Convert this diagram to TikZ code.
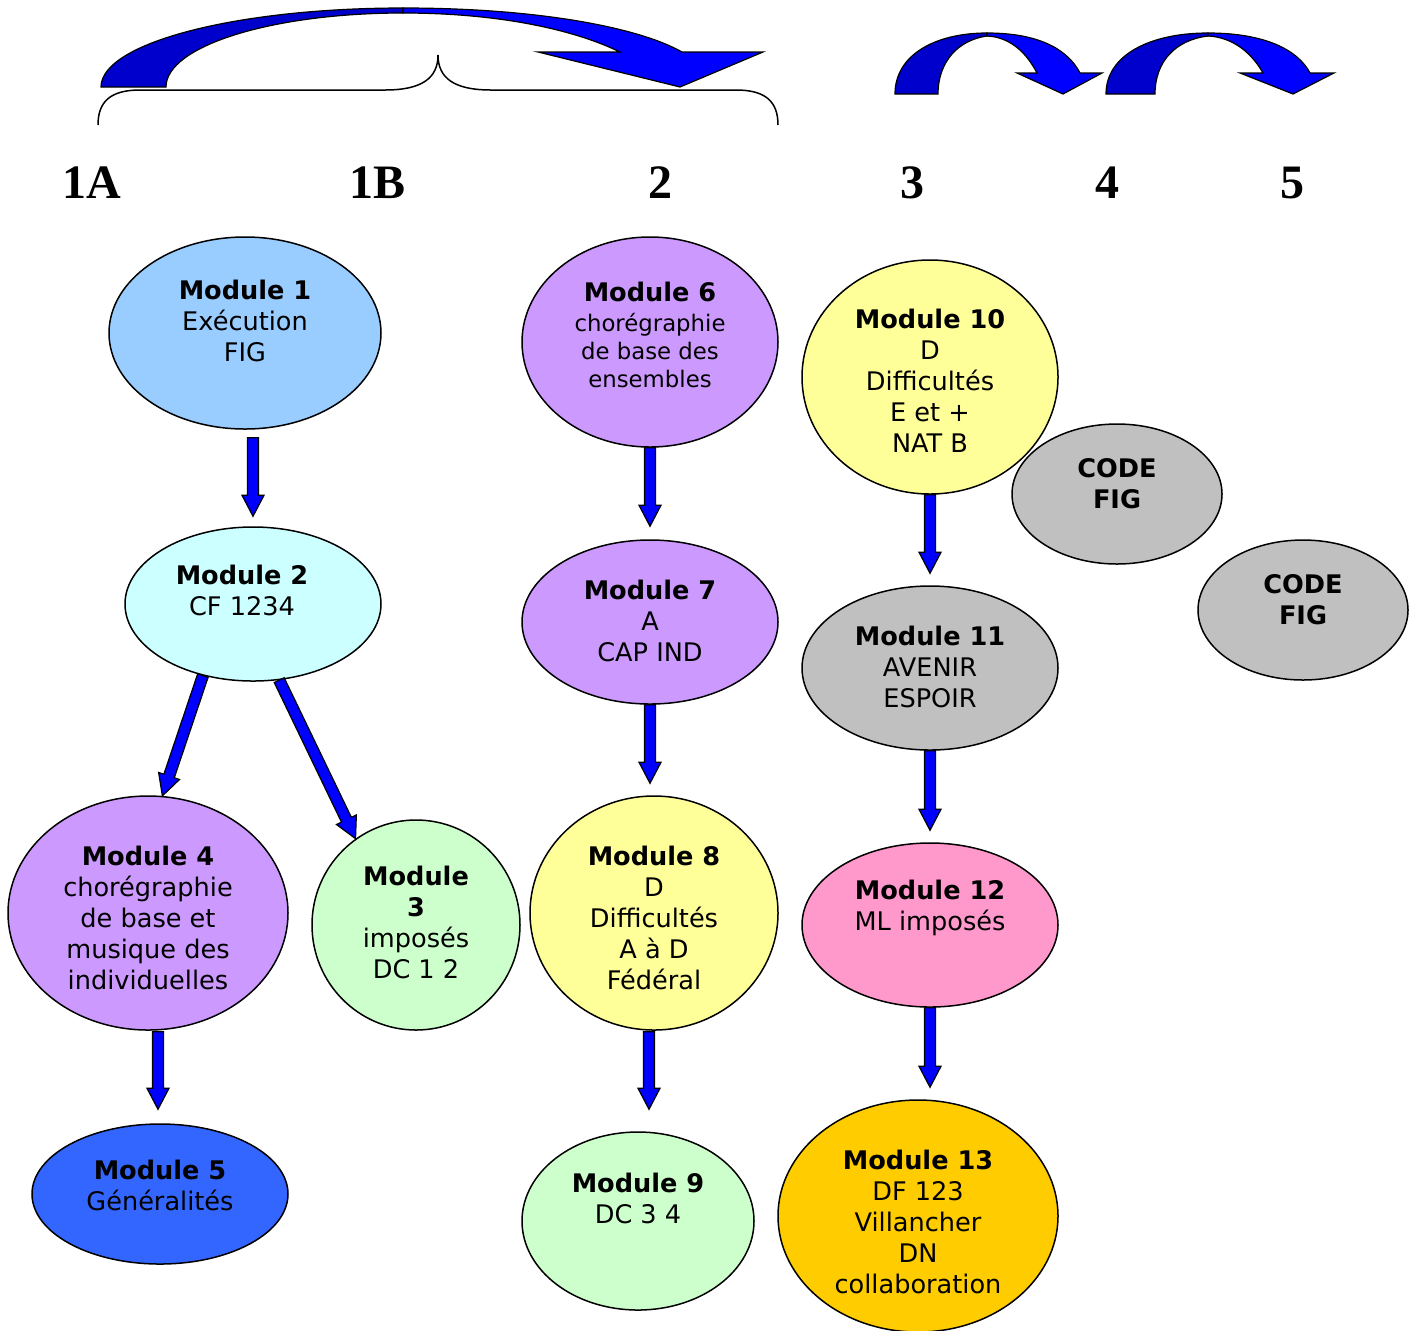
\documentclass[tikz,border=0pt]{standalone}
\usepackage{fontspec}
\newfontfamily\modfont{DejaVu Sans}
\newfontfamily\levelfont{Liberation Serif}
\usetikzlibrary{shapes.geometric,calc}

\definecolor{bleuciel}{HTML}{99CCFF}
\definecolor{cyanpale}{HTML}{CCFFFF}
\definecolor{vertpale}{HTML}{CCFFCC}
\definecolor{lilas}{HTML}{CC99FF}
\definecolor{bleuvif}{HTML}{3366FF}
\definecolor{jaunepale}{HTML}{FFFF99}
\definecolor{gris}{HTML}{C0C0C0}
\definecolor{rose}{HTML}{FF99CC}
\definecolor{orjaune}{HTML}{FFCC00}
\definecolor{bleufonce}{HTML}{0000CC}
\definecolor{bleuflche}{HTML}{0000FF}

\newcommand{\petit}{\fontsize{11.4}{14}\selectfont}

\tikzset{
  mod/.style={ellipse, draw, line width=0.75pt, inner sep=0pt},
  txt/.style={align=center, inner sep=0pt, font=\modfont\fontsize{12.8}{15.5}\selectfont},
  niveau/.style={font=\levelfont\bfseries\fontsize{24}{28}\selectfont},
  fleche/.style={draw=black, fill=bleuflche, line width=0.6pt, line join=miter},
}

% fleche pleine de #1 vers #2
\newcommand{\blockarrow}[2]{%
  \coordinate (ba-s) at (#1);
  \coordinate (ba-e) at (#2);
  \coordinate (ba-h) at ($(ba-e)!10.5pt!(ba-s)$);
  \draw[fleche] ($(ba-s)!2.75pt!90:(ba-e)$) -- ($(ba-h)!2.75pt!90:(ba-e)$)
    -- ($(ba-h)!5.5pt!90:(ba-e)$) -- (ba-e) -- ($(ba-h)!5.5pt!-90:(ba-e)$)
    -- ($(ba-h)!2.75pt!-90:(ba-e)$) -- ($(ba-s)!2.75pt!-90:(ba-e)$) -- cycle;
}

\begin{document}
\begin{tikzpicture}[x=0.5pt,y=-0.5pt]
  \useasboundingbox (0,0) rectangle (1417,1330);

  % niveaux
  \node[niveau] (n1a) at (92,183) {1A};
  \node[niveau] (n1b) at (378,183) {1B};
  \node[niveau] (n2) at (660,183) {2};
  \node[niveau] (n3) at (912,183) {3};
  \node[niveau] (n4) at (1107,183) {4};
  \node[niveau] (n5) at (1292,183) {5};

  % accolade
  \draw[line width=0.75pt] (98,125) .. controls (98,102) and (110,90) .. (140,90) -- (385,90)
    .. controls (422,90) and (438,78) .. (438,55) .. controls (438,78) and (454,90) .. (491,90)
    -- (736,90) .. controls (766,90) and (778,102) .. (778,125);

  % fleches courbes du haut
  \draw[fleche, fill=bleufonce] (101,87) .. controls (101,43) and (236,8) .. (403,8)
    -- (403,13) .. controls (272,13) and (166,46) .. (166,87) -- cycle;
  \draw[fleche] (403,8) .. controls (540,8) and (640,28) .. (682,52) -- (763,52) -- (680,87)
    -- (538,52) -- (620,52) .. controls (575,30) and (500,13) .. (403,13) -- cycle;

  \draw[fleche, fill=bleufonce] (895,94) .. controls (895,55) and (935,33) .. (987,33)
    -- (987,36) .. controls (958,40) and (938,62) .. (938,94) -- cycle;
  \draw[fleche] (987,33) .. controls (1040,33) and (1068,50) .. (1080,73) -- (1102,73) -- (1063,94)
    -- (1017,73) -- (1037,73) .. controls (1025,50) and (1008,37) .. (987,36) -- cycle;

  \draw[fleche, fill=bleufonce] (1106,94) .. controls (1106,55) and (1150,33) .. (1208,33)
    -- (1208,36) .. controls (1175,40) and (1155,62) .. (1155,94) -- cycle;
  \draw[fleche] (1208,33) .. controls (1265,33) and (1298,50) .. (1310,73) -- (1334,73) -- (1293,94)
    -- (1240,73) -- (1263,73) .. controls (1250,50) and (1230,37) .. (1208,36) -- cycle;

  % modules
  \node[mod, fill=bleuciel, minimum width=136pt, minimum height=96pt] (m1) at (245,333) {};
  \node[txt] (m1t) at (245,321) {\textbf{Module 1}\\Exécution\\FIG};
  \node[mod, fill=cyanpale, minimum width=128pt, minimum height=77pt] (m2) at (253,604) {};
  \node[txt] (m2t) at (242,590) {\textbf{Module 2}\\CF 1234};
  \node[mod, fill=vertpale, minimum width=104pt, minimum height=105pt] (m3) at (416,925) {};
  \node[txt] (m3t) at (416,922) {\textbf{Module}\\\textbf{3}\\imposés\\DC 1 2};
  \node[mod, fill=lilas, minimum width=140pt, minimum height=117pt] (m4) at (148,913) {};
  \node[txt] (m4t) at (148,918) {\textbf{Module 4}\\chorégraphie\\de base et\\musique des\\individuelles};
  \node[mod, fill=bleuvif, minimum width=128pt, minimum height=70pt] (m5) at (160,1194) {};
  \node[txt] (m5t) at (160,1185) {\textbf{Module 5}\\Généralités};

  \node[mod, fill=lilas, minimum width=128pt, minimum height=105pt] (m6) at (650,342) {};
  \node[txt] (m6t) at (650,335) {\textbf{Module 6}\\[-0.5pt]{\petit chorégraphie}\\[-1.5pt]{\petit de base des}\\[-1.5pt]{\petit ensembles}};
  \node[mod, fill=lilas, minimum width=128pt, minimum height=82pt] (m7) at (650,622) {};
  \node[txt] (m7t) at (650,621) {\textbf{Module 7}\\A\\CAP IND};
  \node[mod, fill=jaunepale, minimum width=124pt, minimum height=117pt] (m8) at (654,913) {};
  \node[txt] (m8t) at (654,918) {\textbf{Module 8}\\D\\Difficultés\\A à D\\Fédéral};
  \node[mod, fill=vertpale, minimum width=116pt, minimum height=89pt] (m9) at (638,1221) {};
  \node[txt] (m9t) at (638,1198) {\textbf{Module 9}\\DC 3 4};

  \node[mod, fill=jaunepale, minimum width=128pt, minimum height=117pt] (m10) at (930,377) {};
  \node[txt] (m10t) at (930,381) {\textbf{Module 10}\\D\\Difficultés\\E et +\\NAT B};
  \node[mod, fill=gris, minimum width=128pt, minimum height=82pt] (m11) at (930,668) {};
  \node[txt] (m11t) at (930,667) {\textbf{Module 11}\\AVENIR\\ESPOIR};
  \node[mod, fill=rose, minimum width=128pt, minimum height=82pt] (m12) at (930,925) {};
  \node[txt] (m12t) at (930,908) {\textbf{Module 12}\\ML imposés};
  \node[mod, fill=orjaune, minimum width=140pt, minimum height=116pt] (m13) at (918,1216) {};
  \node[txt] (m13t) at (918,1222) {\textbf{Module 13}\\DF 123\\Villancher\\DN\\collaboration};

  \node[mod, fill=gris, minimum width=105pt, minimum height=70pt] (code1) at (1117,494) {};
  \node[txt] (code1t) at (1117,484) {\textbf{CODE}\\\textbf{FIG}};
  \node[mod, fill=gris, minimum width=105pt, minimum height=70pt] (code2) at (1303,610) {};
  \node[txt] (code2t) at (1303,600) {\textbf{CODE}\\\textbf{FIG}};

  % fleches entre modules
  \blockarrow{$(m2.north|-m1.south)+(0,8)$}{$(m2.north)+(0,-10)$}
  \blockarrow{m2.235}{m4.83}
  \blockarrow{m2.289}{m3.125}
  \blockarrow{$(m4.south)+(10,1)$}{$(m5.north)+(-2,-14)$}
  \blockarrow{m6.south}{$(m7.north)+(0,-13)$}
  \blockarrow{m7.south}{$(m7.south|-m8.north)+(0,-12)$}
  \blockarrow{$(m8.south)+(-5,1)$}{$(m9.north)+(11,-22)$}
  \blockarrow{m10.south}{$(m11.north)+(0,-12)$}
  \blockarrow{m11.south}{$(m12.north)+(0,-12)$}
  \blockarrow{m12.south}{$(m12.south|-m13.north)+(0,-12)$}
\end{tikzpicture}
\end{document}
